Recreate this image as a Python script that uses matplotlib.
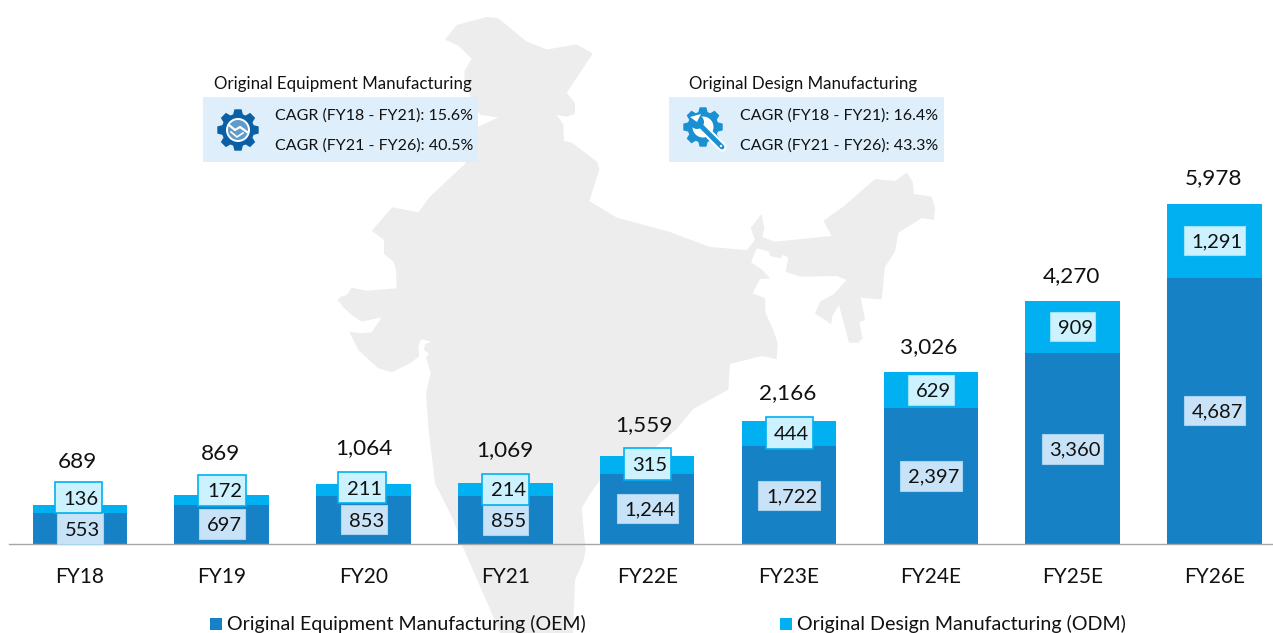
#!/usr/bin/python3

import matplotlib
matplotlib.use('Agg')
import matplotlib.pyplot as plt
import numpy as np
from matplotlib.patches import Circle, Polygon, Rectangle

plt.rcParams['font.family'] = ['Lato', 'DejaVu Sans']

W, H = 1273, 633

# Data
years = ['FY18', 'FY19', 'FY20', 'FY21', 'FY22E', 'FY23E', 'FY24E', 'FY25E', 'FY26E']
oem = [553, 697, 853, 855, 1244, 1722, 2397, 3360, 4687]
odm = [136, 172, 211, 214, 315, 444, 629, 909, 1291]
totals = [689, 869, 1064, 1069, 1559, 2166, 3026, 4270, 5978]

oem_title = 'Original Equipment Manufacturing'
odm_title = 'Original Design Manufacturing'
oem_cagr = ['CAGR (FY18 - FY21): 15.6%', 'CAGR (FY21 - FY26): 40.5%']
odm_cagr = ['CAGR (FY18 - FY21): 16.4%', 'CAGR (FY21 - FY26): 43.3%']

# Label boxes, pixels: x0, y0, x1, y1
oem_boxes = [(57.3, 513.3, 102.7, 544), (199.3, 509.3, 245, 538.7),
             (340.7, 505, 386.7, 534.3), (483.3, 505, 528, 534.7),
             (616.7, 494.4, 677.7, 523.2), (758.3, 480.5, 820, 509.8),
             (900, 461, 961.7, 490.7), (1042.3, 434, 1103.3, 463.7),
             (1184, 395.7, 1245, 425)]
odm_boxes = [(55, 482, 102, 513.3), (198, 474.7, 246, 505.7),
             (338, 472.3, 386, 503.3), (482.3, 473.8, 529, 505),
             (623.7, 448, 670.7, 479.7), (765.7, 417.3, 813, 449),
             (908, 375.3, 953.7, 404.7), (1050.3, 312, 1095.3, 341.3),
             (1184, 226, 1245, 255.3)]
odm_outlined = 6  # first six have the bright outline
total_pos = [(77, 460), (220.5, 452), (364, 446), (505, 448), (644, 423),
             (788, 391), (929, 345), (1071, 274), (1214, 176)]

# Outline of the map behind the bars, pixels
india = [(486.7, 17), (498, 18), (526.7, 41.6), (546.7, 49.5), (576.7, 44.4),
         (592.7, 53.5), (566.7, 93), (575, 103), (575, 113.6), (566.7, 116.8),
         (556.7, 114.8), (563.3, 124.7), (564, 141), (571.7, 142.5),
         (597.3, 162), (599.3, 170), (589.3, 201), (616.7, 217.6), (670, 232),
         (710, 247), (746.7, 250), (755, 240), (750.7, 228), (761.7, 214),
         (764.3, 228), (762.3, 237), (775, 241.7), (831.7, 236), (823.3, 220.7),
         (843.3, 206.7), (875, 179), (895, 181), (906.7, 172.7), (912.7, 181.7),
         (914, 194), (931.7, 196.7), (935, 208), (934, 220), (921.7, 218),
         (898.3, 233), (895, 251.7), (885, 266.7), (881.7, 299.3), (860.7, 297.7),
         (865, 320), (859.3, 322.3), (862.7, 338.3), (858.3, 342.7), (849, 342.7),
         (839, 305), (832.7, 315), (831, 324), (815, 313.3), (820, 301.7),
         (834, 294), (846.7, 280), (836.7, 276), (800, 276.7), (785.7, 271.7),
         (788.3, 257.3), (782.7, 255), (780.7, 258.3), (770, 256), (769.3, 251.7),
         (756.7, 248.3), (751, 262.3), (761.7, 269.3), (770, 278.3), (760, 279),
         (752.7, 293.3), (765, 298.3), (765.7, 313.3), (773.3, 330), (777.7, 343.3),
         (776.7, 359.3), (761.7, 356), (730, 364), (728.3, 389.6), (693.3, 409),
         (676.7, 429), (640, 460), (600, 480), (590, 494), (581.7, 508), (585, 544.6),
         (585.7, 550), (583.3, 561.7), (575, 580), (574, 606.7), (573, 633),
         (500, 633), (491.7, 613), (461.7, 544.3), (453.3, 520), (443.3, 500),
         (435, 483.3), (428.3, 426.7), (426, 393.3), (430.7, 373.3), (426, 357.3),
         (429.3, 354), (424, 350), (425, 344), (431.7, 341.7), (421, 339),
         (418.3, 346.7), (419.3, 356), (410, 363.3), (391.7, 372.3), (378.3, 368.3),
         (358.3, 350), (349.3, 331.7), (361.7, 333.3), (371.7, 332.3), (381.7, 317.3),
         (361.7, 321.7), (351.7, 315), (342.7, 306.7), (340.7, 303.3), (337.3, 300.7),
         (340.7, 296.7), (346.7, 295), (351.7, 287.7), (366.7, 290.7), (396.7, 288.3),
         (396, 269.3), (393.3, 261.7), (384, 254), (384, 240), (371.7, 230.7),
         (392.3, 207.3), (418.3, 212.3), (430, 196.7), (458.3, 170), (463.3, 166),
         (476.7, 146.4), (478.3, 126.6), (498.3, 117.5), (480, 114.8), (473.3, 101),
         (465, 85), (464.3, 71.3), (471.7, 58.6), (458.3, 45.6), (445, 39.7),
         (456.7, 25)]

OEM_COLOR = '#1681C4'
ODM_COLOR = '#00B0F0'
TEXT = '#111111'


def draw_gear(ax, cx, cy, r, color):
    # Eight-toothed gear, y axis points down
    n = 8
    pts = []
    for k in range(n):
        a = 2 * np.pi * k / n
        for da, rad in [(-0.30, 0.78), (-0.17, 1.0), (0.17, 1.0), (0.30, 0.78)]:
            pts.append((cx + r * rad * np.cos(a + da), cy + r * rad * np.sin(a + da)))
    ax.add_patch(Polygon(pts, closed=True, fc=color, ec='none', zorder=3))


fig = plt.figure(figsize=(W / 100, H / 100), dpi=100, facecolor='white')

# Background layer, pixel coordinates
bg = fig.add_axes([0, 0, 1, 1], zorder=0)
bg.set_xlim(0, W)
bg.set_ylim(H, 0)
bg.axis('off')
bg.add_patch(Polygon(india, closed=True, fc='#EDEDED', ec='none'))

# Bars
base_y = 544.3
left_px = 9
ax = fig.add_axes([left_px / W, 1 - base_y / H, 1 - left_px / W, base_y / H], zorder=1)
ax.patch.set_visible(False)
ax.set_xlim(-0.5, 8.413)
ax.set_ylim(0, base_y / 0.05688)
x = np.arange(len(years))
ax.bar(x, oem, width=0.667, color=OEM_COLOR, linewidth=0)
ax.bar(x, odm, width=0.667, bottom=oem, color=ODM_COLOR, linewidth=0)
for s in ['top', 'left', 'right']:
    ax.spines[s].set_visible(False)
ax.spines['bottom'].set_color('#A6A6A6')
ax.spines['bottom'].set_linewidth(1.0)
ax.set_yticks([])
ax.set_xticks(x)
ax.set_xticklabels(years, fontsize=15, color=TEXT)
ax.tick_params(axis='x', length=0, pad=16)

# Top layer for the labels and info boxes
top = fig.add_axes([0, 0, 1, 1], zorder=2)
top.set_xlim(0, W)
top.set_ylim(H, 0)
top.axis('off')
top.patch.set_visible(False)

for val, (x0, y0, x1, y1) in zip(oem, oem_boxes):
    top.add_patch(Rectangle((x0, y0), x1 - x0, y1 - y0, fc='#C8E3F7', ec='#A5D3F0', lw=0.8))
    top.text((x0 + x1) / 2 + 2.5, (y0 + y1) / 2, f'{val:,}', fontsize=14.5, color=TEXT,
             ha='center', va='center_baseline')
for i, (val, (x0, y0, x1, y1)) in enumerate(zip(odm, odm_boxes)):
    edge = ODM_COLOR if i < odm_outlined else '#9FE3FA'
    top.add_patch(Rectangle((x0, y0), x1 - x0, y1 - y0, fc='#CCF2FF', ec=edge,
                            lw=1.2 if i < odm_outlined else 0.8))
    top.text((x0 + x1) / 2 + 2.5, (y0 + y1) / 2, f'{val:,}', fontsize=14.5, color=TEXT,
             ha='center', va='center_baseline')
for val, (tx, ty) in zip(totals, total_pos):
    top.text(tx, ty, f'{val:,}', fontsize=16.2, color=TEXT, ha='center', va='center_baseline')

# Info boxes
for box_x, title, title_x, lines, text_x in [(203, oem_title, 343, oem_cagr, 275),
                                             (669, odm_title, 803.5, odm_cagr, 740)]:
    top.add_patch(Rectangle((box_x, 97.3), 275, 64.4, fc='#DCEEFB', ec='none', alpha=0.92))
    top.text(title_x, 82, title, fontsize=12.2, color=TEXT, ha='center', va='center_baseline')
    top.text(text_x, 114, lines[0], fontsize=11.5, color=TEXT, va='center_baseline')
    top.text(text_x, 144, lines[1], fontsize=11.5, color=TEXT, va='center_baseline')

# OEM gear with a handshake
draw_gear(top, 238, 130, 21, '#0B5FA5')
top.add_patch(Circle((238, 130), 12, fc='white', ec='none', zorder=4))
top.add_patch(Circle((238, 130), 10, fc='#5F9BCB', ec='none', zorder=4))
top.plot([229, 235, 240, 247], [125, 130, 127, 132], color='white', lw=1.6, zorder=5)
top.plot([231, 237, 243], [132, 137, 133], color='white', lw=1.2, zorder=5)

# ODM gear with a wrench
WRENCH = '#1A8FD1'
draw_gear(top, 703, 127, 20, WRENCH)
top.add_patch(Circle((703, 127), 10.5, fc='white', ec='none', zorder=4))
top.plot([699, 722], [124, 147], color='white', lw=6.5, solid_capstyle='round', zorder=5)
top.plot([700, 722], [125, 147], color=WRENCH, lw=3.5, solid_capstyle='round', zorder=6)
top.add_patch(Circle((697, 122), 7, fc=WRENCH, ec='none', zorder=6))
top.add_patch(Polygon([(690, 117), (697, 122), (701, 114)], closed=True, fc='white', ec='none', zorder=7))
top.add_patch(Circle((721, 146), 1.2, fc='white', ec='none', zorder=7))

# Legend
top.add_patch(Rectangle((210, 617.7), 12, 12, fc=OEM_COLOR, ec='none'))
top.text(227, 622, 'Original Equipment Manufacturing (OEM)', fontsize=14.1, color=TEXT,
         va='center_baseline')
top.add_patch(Rectangle((780, 617.7), 12, 12, fc=ODM_COLOR, ec='none'))
top.text(797, 622, 'Original Design Manufacturing (ODM)', fontsize=14.1, color=TEXT,
         va='center_baseline')

fig.savefig('out.png', dpi=100)
